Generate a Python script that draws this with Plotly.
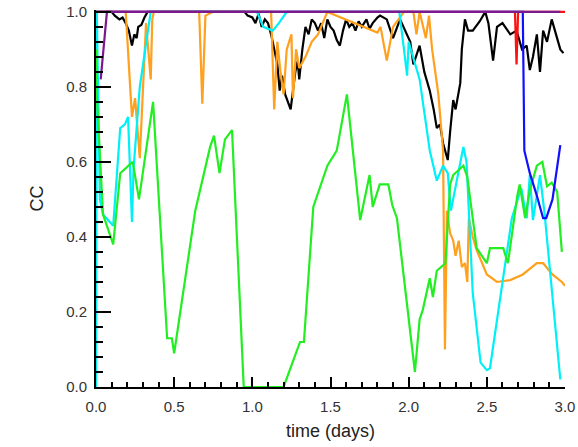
import plotly.graph_objects as go

# ---- data ----
black_t = [0, 0.10, 0.12, 0.15, 0.17, 0.19, 0.21, 0.23, 0.245, 0.26, 0.27, 0.29, 0.31, 0.33, 0.95, 0.97, 1.0, 1.02,
           1.04, 1.06, 1.08, 1.10, 1.12, 1.14, 1.16, 1.175, 1.19, 1.21, 1.23, 1.245, 1.26, 1.275, 1.29, 1.30, 1.32,
           1.34, 1.36, 1.38, 1.40, 1.42, 1.44, 1.46, 1.48, 1.50, 1.52, 1.54, 1.56, 1.58, 1.60, 1.62, 1.64, 1.66,
           1.68, 1.70, 1.73, 1.75, 1.77, 1.80, 1.817, 1.86, 1.90, 1.945, 2.01, 2.03, 2.07, 2.10, 2.135, 2.16, 2.18,
           2.20, 2.22, 2.25, 2.265, 2.285, 2.30, 2.33, 2.34, 2.36, 2.38, 2.41, 2.455, 2.49, 2.51, 2.54, 2.565, 2.60,
           2.65, 2.69, 2.725, 2.755, 2.775, 2.795, 2.82, 2.84, 2.86, 2.885, 2.915, 2.935, 2.97, 2.99]
black_v = [1.0, 1.0, 0.99, 0.98, 0.985, 0.97, 0.95, 0.91, 0.94, 0.93, 0.96, 0.965, 0.985, 1.0, 1.0, 0.99, 0.985, 0.97,
           0.995, 0.96, 0.98, 0.97, 0.94, 0.90, 0.86, 0.79, 0.83, 0.78, 0.76, 0.74, 0.79, 0.84, 0.87, 0.82, 0.90,
           0.96, 0.94, 0.98, 0.97, 0.95, 0.97, 0.93, 0.98, 0.96, 0.95, 0.925, 0.91, 0.95, 0.98, 0.96, 0.97, 0.95,
           0.975, 0.96, 0.98, 0.955, 0.97, 0.985, 0.99, 0.98, 0.93, 0.98, 0.92, 0.86, 0.91, 0.84, 0.79, 0.74, 0.69,
           0.70, 0.65, 0.605, 0.68, 0.765, 0.74, 0.81, 0.90, 0.98, 0.95, 0.95, 0.975, 1.0, 0.97, 0.87, 0.96, 0.97,
           0.94, 0.95, 0.90, 0.91, 0.845, 0.88, 0.94, 0.84, 0.95, 0.92, 0.98, 0.95, 0.90, 0.89]

orange_t = [0, 0.19, 0.23, 0.25, 0.28, 0.30, 0.32, 0.35, 0.36, 0.37, 0.66, 0.68, 0.70, 0.75, 1.12, 1.14, 1.16, 1.18,
            1.20, 1.22, 1.25, 1.26, 1.28, 1.30, 1.34, 1.38, 1.42, 1.48, 1.80, 1.82, 1.86, 1.90, 1.97, 2.03, 2.05,
            2.07, 2.11, 2.13, 2.15, 2.19, 2.22, 2.232, 2.245, 2.265, 2.285, 2.30, 2.32, 2.34, 2.36, 2.375, 2.385,
            2.41, 2.435, 2.50, 2.565, 2.65, 2.73, 2.82, 2.86, 2.92, 2.98, 3.0]
orange_v = [1.0, 1.0, 0.72, 0.77, 0.61, 0.80, 0.97, 0.82, 0.98, 1.0, 1.0, 0.755, 0.99, 1.0, 1.0, 0.74, 0.92, 0.84,
            0.78, 0.90, 0.94, 0.77, 0.90, 0.85, 0.88, 0.92, 0.94, 1.0, 0.945, 0.96, 0.87, 0.96, 1.0, 1.0, 0.94,
            1.0, 0.93, 0.99, 0.90, 0.78, 0.63, 0.10, 0.47, 0.41, 0.39, 0.35, 0.39, 0.32, 0.33, 0.28, 0.45,
            0.40, 0.365, 0.30, 0.28, 0.285, 0.30, 0.33, 0.33, 0.30, 0.28, 0.27]

cyan_t = [0, 0.005, 0.025, 0.045, 0.11, 0.155, 0.185, 0.205, 0.23, 0.24, 0.28, 0.35, 1.03, 1.07, 1.13, 1.17, 1.22,
          1.94, 1.97, 1.99, 2.0, 2.07, 2.135, 2.18, 2.22, 2.25, 2.27, 2.35, 2.37, 2.41, 2.46, 2.50, 2.52, 2.60,
          2.66, 2.72, 2.755, 2.775, 2.795, 2.84, 2.87, 2.97]
cyan_v = [0.0, 1.0, 0.50, 0.46, 0.43, 0.69, 0.70, 0.72, 0.44, 0.58, 0.80, 1.0, 1.0, 0.96, 0.95, 0.97, 1.0,
          1.0, 0.90, 0.83, 0.92, 0.82, 0.63, 0.55, 0.59, 0.57, 0.47, 0.64, 0.60, 0.25, 0.065, 0.045, 0.05, 0.28,
          0.45, 0.53, 0.45, 0.565, 0.445, 0.565, 0.46, 0.02]

green_t = [0, 0.006, 0.045, 0.11, 0.155, 0.235, 0.275, 0.365, 0.455, 0.485, 0.50, 0.635, 0.73, 0.755, 0.79, 0.825,
           0.87, 0.945, 1.20, 1.305, 1.33, 1.39, 1.48, 1.54, 1.605, 1.645, 1.69, 1.75, 1.77, 1.815, 1.87, 1.895,
           1.925, 2.04, 2.07, 2.09, 2.135, 2.155, 2.18, 2.235, 2.265, 2.285, 2.35, 2.375, 2.435, 2.50, 2.52, 2.605,
           2.635, 2.695, 2.71, 2.745, 2.775, 2.82, 2.855, 2.885, 2.915, 2.95, 2.98]
green_v = [0.90, 0.77, 0.46, 0.38, 0.57, 0.60, 0.50, 0.76, 0.13, 0.13, 0.09, 0.47, 0.64, 0.67, 0.57, 0.66,
           0.685, 0.0, 0.0, 0.12, 0.12, 0.48, 0.59, 0.63, 0.78, 0.63, 0.445, 0.565, 0.48, 0.54, 0.54, 0.485,
           0.45, 0.04, 0.18, 0.205, 0.29, 0.24, 0.31, 0.33, 0.54, 0.565, 0.59, 0.56, 0.37, 0.33, 0.37, 0.37,
           0.33, 0.51, 0.54, 0.45, 0.525, 0.59, 0.60, 0.535, 0.545, 0.52, 0.36]

red_t = [0, 2.68, 2.69, 2.70, 3.0]
red_v = [1.0, 1.0, 0.86, 1.0, 1.0]

blue_t = [0, 2.73, 2.74, 2.775, 2.82, 2.86, 2.88, 2.92, 2.97]
blue_v = [1.0, 1.0, 0.63, 0.57, 0.51, 0.45, 0.45, 0.50, 0.645]

purple_t = [0.03, 0.07, 2.97]
purple_v = [0.82, 1.0, 1.0]

x_ticks = [0, 0.5, 1.0, 1.5, 2.0, 2.5, 3.0]
x_tick_labels = ["0.0", "0.5", "1.0", "1.5", "2.0", "2.5", "3.0"]
y_ticks = [0, 0.2, 0.4, 0.6, 0.8, 1.0]
y_tick_labels = ["0.0", "0.2", "0.4", "0.6", "0.8", "1.0"]

series = [
    (black_t, black_v, "#000000"),
    (orange_t, orange_v, "#ffa01e"),
    (cyan_t, cyan_v, "#00f0f8"),
    (green_t, green_v, "#22ee22"),
    (red_t, red_v, "#ff1010"),
    (blue_t, blue_v, "#1010ff"),
    (purple_t, purple_v, "#7a1a8c"),
]

fig = go.Figure()
for t, v, c in series:
    fig.add_trace(go.Scatter(x=t, y=v, mode="lines", line=dict(color=c, width=2.2), showlegend=False,
                             hoverinfo="skip"))

font_family = "Liberation Sans, Arial, sans-serif"
fig.update_layout(
    width=578, height=447,
    margin=dict(l=96, r=13, t=10, b=60, autoexpand=False),
    paper_bgcolor="white", plot_bgcolor="white",
    font=dict(family=font_family, color="#222", size=15),
    xaxis=dict(range=[0, 3.0], tickvals=x_ticks, ticktext=x_tick_labels, showgrid=False, zeroline=False,
               automargin=False, ticklabelstandoff=5,
               showline=True, linecolor="black", linewidth=2, ticks="inside", ticklen=10, tickwidth=1.5,
               tickcolor="black", tickfont=dict(size=15, color="#333"),
               minor=dict(dtick=0.1, ticks="inside", ticklen=5, tickwidth=1.5, tickcolor="black", showgrid=False),
               title=dict(text="time (days)", font=dict(size=18, color="#222"), standoff=10)),
    yaxis=dict(range=[0, 1.005], tickvals=y_ticks, ticktext=y_tick_labels, showgrid=False, zeroline=False,
               automargin=False, ticklabelstandoff=4,
               showline=True, linecolor="black", linewidth=2, ticks="inside", ticklen=15, tickwidth=1.5,
               tickcolor="black", tickfont=dict(size=15, color="#333"),
               minor=dict(dtick=0.04, ticks="inside", ticklen=7, tickwidth=1.5, tickcolor="black", showgrid=False),
               title=dict(text="CC", font=dict(size=18, color="#222"), standoff=18)),
)
fig.write_html("out.html", config={"displayModeBar": False},
               post_script="document.body.style.margin='0px';")
